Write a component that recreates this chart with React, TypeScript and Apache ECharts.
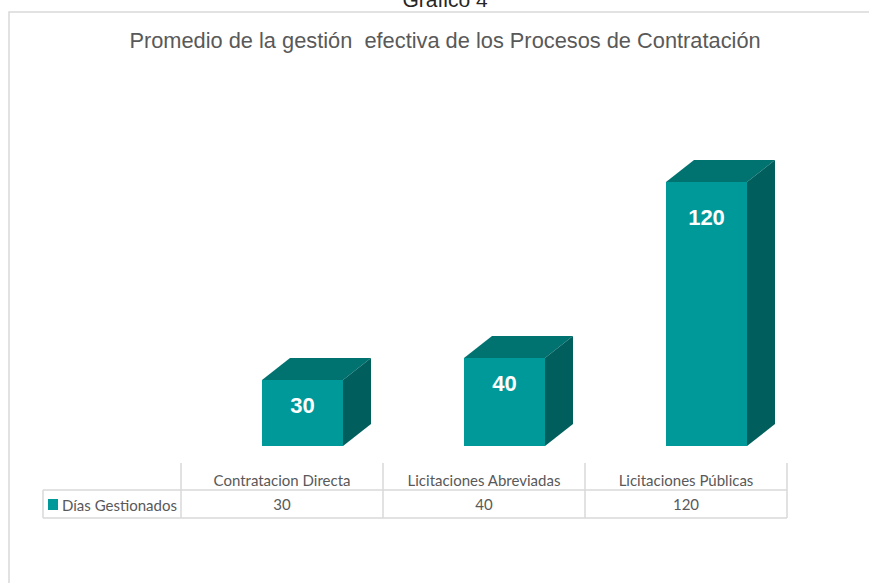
import React, { useEffect, useRef } from "react";
import * as echarts from "echarts";

const categories = ["Contratacion Directa", "Licitaciones Abreviadas", "Licitaciones Públicas"];
const values = [30, 40, 120];
const seriesName = "Días Gestionados";
const pageCaption = "Gráfico 4";
const chartTitle = "Promedio de la gestión  efectiva de los Procesos de Contratación";

const FRONT = "#009999";
const TOP = "#007370";
const SIDE = "#005f5c";
const LINE = "#d9d9d9";
const TEXT = "#595959";
const TABLE_FONT = "Lato";

const renderBox = (params: any, api: any) => {
  const i = api.value(0);
  const v = api.value(1);
  const [cx, yTop] = api.coord([i, v]);
  const [, yBase] = api.coord([i, 0]);
  const w = 81;
  const dx = 28;
  const dy = 22;
  const x0 = cx - 20;
  const x1 = x0 + w;
  const labelDrop = v >= 100 ? 35 : 25;
  return {
    type: "group",
    children: [
      { type: "polygon", shape: { points: [[x0, yTop], [x1, yTop], [x1 + dx, yTop - dy], [x0 + dx, yTop - dy]] }, style: { fill: TOP } },
      { type: "polygon", shape: { points: [[x1, yTop], [x1 + dx, yTop - dy], [x1 + dx, yBase - dy], [x1, yBase]] }, style: { fill: SIDE } },
      { type: "rect", shape: { x: x0, y: yTop, width: w, height: yBase - yTop }, style: { fill: FRONT } },
      {
        type: "text",
        x: x0 + w / 2,
        y: yTop + labelDrop,
        style: { text: String(v), fill: "#ffffff", font: 'bold 22px "Liberation Sans"', align: "center", verticalAlign: "middle" },
      },
    ],
  };
};

const hLine = (x1: number, x2: number, y: number) => ({
  type: "line", shape: { x1, y1: y, x2, y2: y }, style: { stroke: LINE, lineWidth: 1.5 }, silent: true,
});
const vLine = (x: number, y1: number, y2: number) => ({
  type: "line", shape: { x1: x, y1, x2: x, y2 }, style: { stroke: LINE, lineWidth: 1.5 }, silent: true,
});

export default function App() {
  const ref = useRef<HTMLDivElement>(null);
  useEffect(() => {
    document.body.style.margin = "0";
    const chart = echarts.init(ref.current!, undefined, { renderer: "svg" });
    chart.setOption({
      animation: false,
      backgroundColor: "#ffffff",
      title: [
        { text: pageCaption, left: 445, top: -11, padding: 0, textAlign: "center", textStyle: { fontFamily: "Liberation Sans", fontSize: 21, fontWeight: "normal", color: "#262626" } },
        { text: chartTitle, left: 445, top: 29, padding: 0, textAlign: "center", textStyle: { fontFamily: "Liberation Sans", fontSize: 21.8, fontWeight: "normal", color: TEXT } },
      ],
      legend: {
        data: [{ name: seriesName, icon: "rect" }],
        left: 48, top: 497, padding: 0, itemWidth: 10, itemHeight: 11, itemGap: 4,
        textStyle: { fontFamily: TABLE_FONT, fontSize: 15, color: TEXT, padding: [0, 0, 0, -1] },
      },
      grid: { left: 181, right: 82, top: 138, height: 308 },
      xAxis: [
        { type: "category", data: categories, position: "bottom", axisLine: { show: false }, axisTick: { show: false },
          axisLabel: { fontFamily: TABLE_FONT, fontSize: 15, color: TEXT, margin: 26 } },
        { type: "category", data: values.map(String), position: "bottom", offset: 24, axisLine: { show: false }, axisTick: { show: false },
          axisLabel: { fontFamily: TABLE_FONT, fontSize: 15, color: TEXT, margin: 26 } },
      ],
      yAxis: { type: "value", min: 0, max: 140, show: false },
      series: [
        { type: "custom", name: seriesName, xAxisIndex: 0, itemStyle: { color: FRONT },
          encode: { x: 0, y: 1 }, data: values.map((v, i) => [i, v]), renderItem: renderBox },
      ],
      graphic: {
        elements: [
          { type: "polyline", shape: { points: [[9, 583], [9, 12], [869, 12]] }, style: { stroke: LINE, fill: "none", lineWidth: 1.5 }, silent: true },
          hLine(43, 787, 490),
          hLine(43, 787, 518),
          vLine(43, 490, 518),
          vLine(181, 463, 518),
          vLine(383, 463, 518),
          vLine(585, 463, 518),
          vLine(787, 463, 518),
        ],
      },
    });
    return () => chart.dispose();
  }, []);
  return <div ref={ref} style={{ width: 869, height: 583 }} />;
}
